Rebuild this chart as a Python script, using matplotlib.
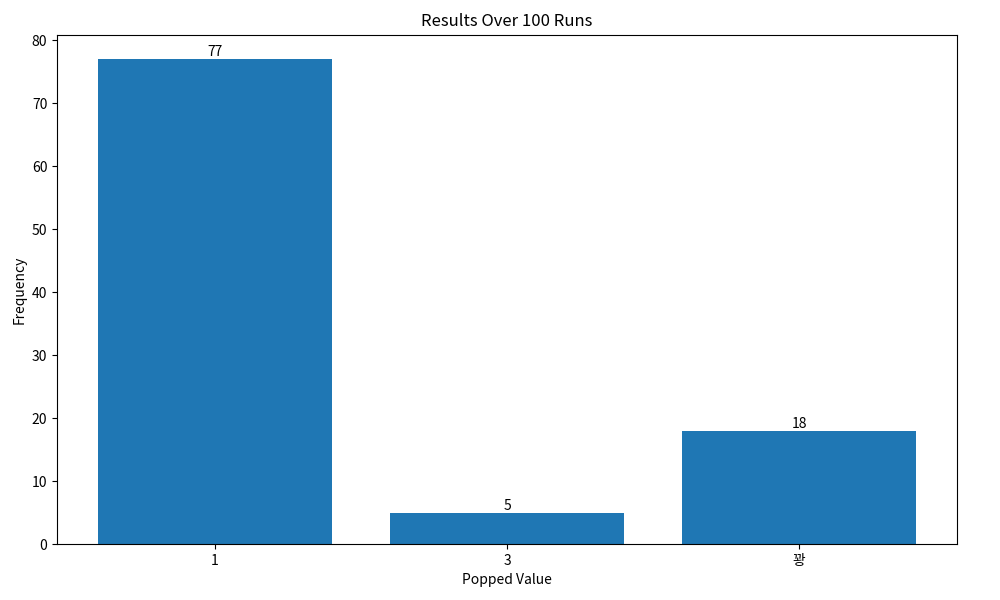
import matplotlib
matplotlib.use("Agg")
import matplotlib.pyplot as plt

plt.rcParams['font.family'] = ['Noto Sans CJK KR', 'DejaVu Sans']

categories = ['1', '3', '꽝']
counts = [77, 5, 18]

fig, ax = plt.subplots(figsize=(10, 6), dpi=100)
bars = ax.bar(categories, counts, color='#1f77b4')
ax.bar_label(bars)

ax.set_title('Results Over 100 Runs')
ax.set_xlabel('Popped Value')
ax.set_ylabel('Frequency')

plt.subplots_adjust(left=0.057, right=0.957, top=0.942, bottom=0.093)
fig.savefig('out.png')
